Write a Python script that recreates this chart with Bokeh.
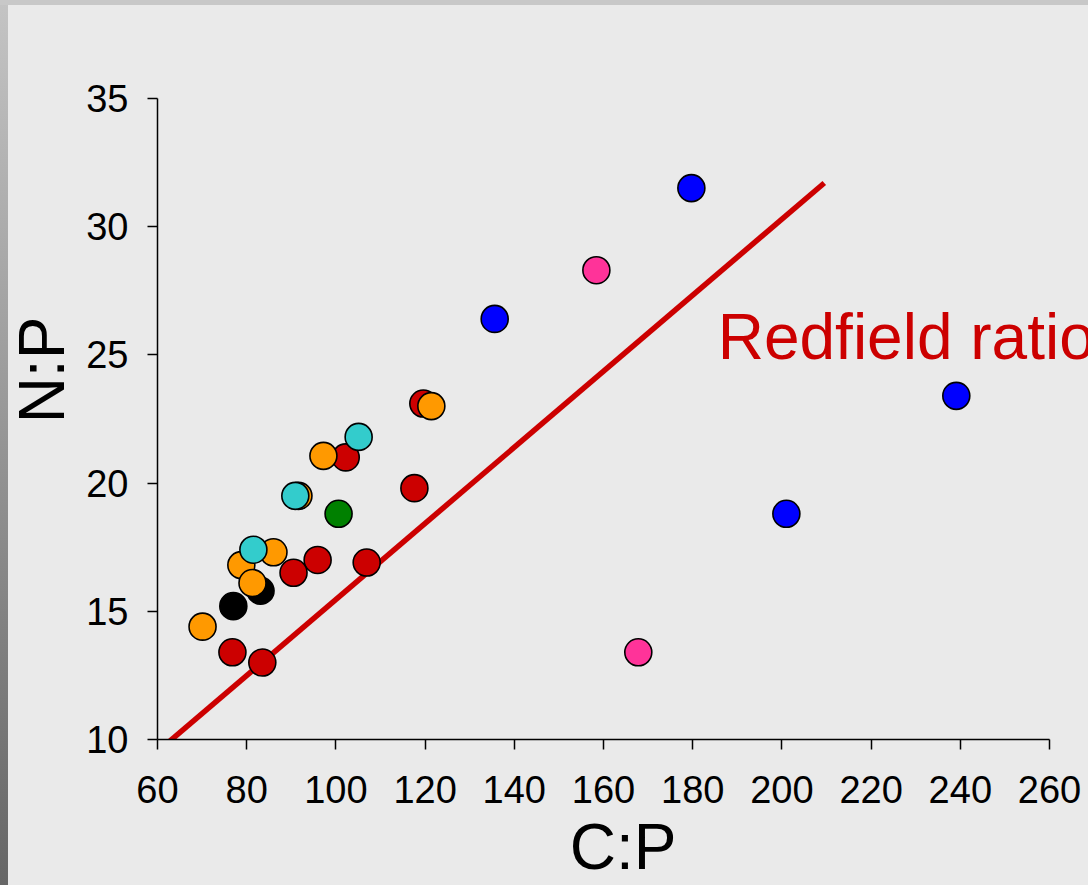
from bokeh.plotting import figure
from bokeh.models import Label, FixedTicker, ColumnDataSource
from bokeh.embed import file_html
from bokeh.resources import INLINE

# ---- data (C:P, N:P) per group ----
black_x = [77.0, 83.1]
black_y = [15.2, 15.8]
red_x = [119.6, 102.2, 117.6, 95.9, 90.5, 106.9, 76.8, 83.5]
red_y = [23.1, 21.0, 19.8, 17.0, 16.5, 16.9, 13.4, 13.0]
orange_x = [121.4, 97.2, 91.6, 86.0, 78.8, 81.3, 70.1]
orange_y = [23.0, 21.06, 19.5, 17.3, 16.8, 16.1, 14.4]
cyan_x = [105.1, 90.9, 81.5]
cyan_y = [21.8, 19.5, 17.4]
green_x = [100.6]
green_y = [18.8]
blue_x = [179.7, 135.6, 239.1, 201.0]
blue_y = [31.5, 26.4, 23.4, 18.8]
pink_x = [158.4, 167.8]
pink_y = [28.3, 13.4]

redfield_x = [62.5, 209.5]
redfield_y = [9.9, 31.7]

x_ticks = [60, 80, 100, 120, 140, 160, 180, 200, 220, 240, 260]
y_ticks = [10, 15, 20, 25, 30, 35]

BG = "#eaeaea"
FONT = "Liberation Sans"

# Frame runs to the right and top edges so the label is not clipped;
# axis bounds keep the drawn axes at 60-260 and 10-35.
p = figure(width=1088, height=885, x_range=(60, 268.74), y_range=(10, 38.816),
           output_backend="svg", toolbar_location=None,
           min_border_left=157, min_border_right=0,
           min_border_top=0, min_border_bottom=145)
p.background_fill_alpha = 0
p.border_fill_alpha = 0
p.styles = {
    "background": ("linear-gradient(#c8c8c8, #c8c8c8) left top / 100% 5px no-repeat, "
                   "linear-gradient(#c4c4c4, #666666) left top / 8px 100% no-repeat, "
                   + BG),
}
p.outline_line_color = None
p.grid.visible = False

for ax in (p.xaxis[0], p.yaxis[0]):
    ax.axis_line_color = "black"
    ax.axis_line_width = 1.5
    ax.major_tick_line_color = "black"
    ax.major_tick_line_width = 1.5
    ax.major_tick_out = 10
    ax.major_tick_in = 0
    ax.minor_tick_line_color = None
    ax.major_label_text_font = FONT
    ax.major_label_text_font_size = "38px"
    ax.major_label_text_color = "black"
    ax.axis_label_text_font = FONT
    ax.axis_label_text_font_size = "64px"
    ax.axis_label_text_font_style = "normal"
    ax.axis_label_text_color = "black"

p.xaxis[0].ticker = FixedTicker(ticks=x_ticks)
p.yaxis[0].ticker = FixedTicker(ticks=y_ticks)
p.xaxis[0].bounds = (60, 260)
p.yaxis[0].bounds = (10, 35)
p.xaxis[0].axis_label = "C:P"
p.yaxis[0].axis_label = "N:P"
p.xaxis[0].major_label_standoff = 26
p.yaxis[0].major_label_standoff = 19
p.xaxis[0].axis_label_standoff = 5
p.yaxis[0].axis_label_standoff = 5

p.line(redfield_x, redfield_y, line_color="#cc0000", line_width=5.5)

groups = [
    (black_x, black_y, "#000000"),
    (red_x, red_y, "#cc0000"),
    (orange_x, orange_y, "#ff9900"),
    (cyan_x, cyan_y, "#33cccc"),
    (green_x, green_y, "#008000"),
    (blue_x, blue_y, "#0000ff"),
    (pink_x, pink_y, "#ff3399"),
]
for gx, gy, col in groups:
    src = ColumnDataSource(dict(x=gx, y=gy))
    p.scatter("x", "y", source=src, size=27, fill_color=col,
              line_color="black", line_width=1.6)

p.add_layout(Label(x=185.6, y=25.69, text="Redfield ratio",
                   text_font=FONT, text_font_size="64px",
                   text_color="#cc0000", text_baseline="alphabetic"))

open("out.html", "w").write(file_html(p, INLINE))
